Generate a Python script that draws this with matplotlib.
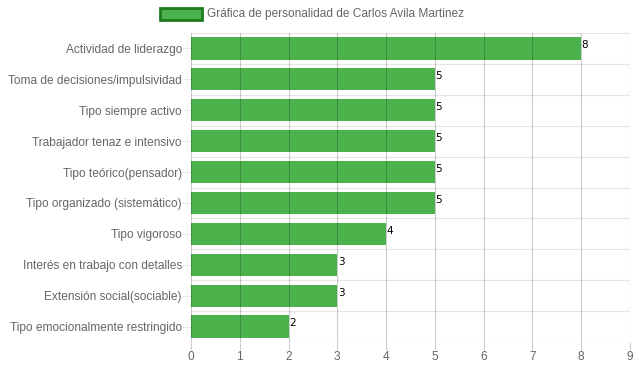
import numpy as np
import matplotlib.pyplot as plt
from matplotlib.patches import Rectangle

# -------------------------------------------------
# Data
# -------------------------------------------------
categories = [
    "Actividad de liderazgo",
    "Toma de decisiones/impulsividad",
    "Tipo siempre activo",
    "Trabajador tenaz e intensivo",
    "Tipo teórico(pensador)",
    "Tipo organizado (sistemático)",
    "Tipo vigoroso",
    "Interés en trabajo con detalles",
    "Extensión social(sociable)",
    "Tipo emocionalmente restringido",
]
values = [8, 5, 5, 5, 5, 5, 4, 3, 3, 2]
legend_label = "Gráfica de personalidad de Carlos Avila Martinez"

plt.rcParams["font.family"] = ["Liberation Sans", "DejaVu Sans"]

W, H = 637, 371
fig = plt.figure(figsize=(W / 100, H / 100), dpi=100)
ax = fig.add_axes([191 / W, 1 - 342 / H, (630 - 191) / W, (342 - 33) / H])

y = np.arange(len(categories))
ax.barh(y, values, height=0.72, color="#4cb34c", zorder=2)

# vertical grid (drawn over bars, like the reference)
for v in range(0, 10):
    ax.axvline(v, color="#000000", alpha=0.2, lw=0.8, zorder=3)
# horizontal grid between categories
for b in np.arange(-0.5, len(categories) + 0.5, 1):
    ax.axhline(b, color="#e6e6e6", lw=0.8, zorder=1)

for yi, v in zip(y, values):
    ax.text(v + 0.01, yi - 0.1, str(v), fontsize=7.5, color="black",
            ha="left", va="center", zorder=4, family="DejaVu Sans")

ax.set_xlim(0, 9)
ax.set_ylim(len(categories) - 0.5, -0.5)
ax.set_xticks(range(0, 10))
ax.set_yticks(y)
ax.set_yticklabels(categories)
ax.tick_params(axis="both", colors="#666666", labelsize=8.6, width=0.8)
ax.tick_params(axis="x", color="#cccccc", length=5.8, pad=1)
ax.tick_params(axis="y", color="#e6e6e6", length=6.5, pad=0)
for s in ax.spines.values():
    s.set_visible(False)

# legend
fig.patches.append(Rectangle((160 / W, 1 - 20 / H), 42 / W, 12 / H,
                             transform=fig.transFigure, facecolor="#4cb34c",
                             edgecolor="#1f7a1f", lw=2))
fig.text(207 / W, 1 - 14 / H, legend_label, fontsize=8.6, color="#666666",
         ha="left", va="center")

fig.savefig("out.png", dpi=100)
